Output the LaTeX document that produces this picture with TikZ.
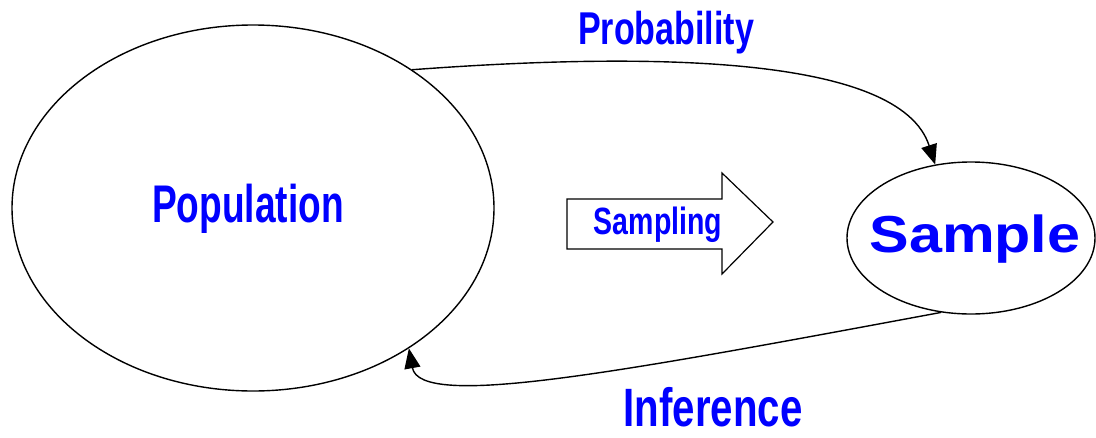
\documentclass[tikz,border=0pt]{standalone}
\usepackage{fontspec}
\setmainfont{Liberation Sans}
\usetikzlibrary{arrows.meta,shapes.geometric}
\definecolor{lblblue}{RGB}{0,0,255}
\newcommand{\narrowtxt}[2]{\scalebox{#1}[1]{#2}}
\tikzset{
  line/.style={line width=1.4pt, black},
  bubble/.style={draw, ellipse, line width=1.4pt, inner sep=0pt},
  lbl/.style={text=lblblue, font=\bfseries, inner sep=0pt, anchor=base},
  conn/.style={line, -{Triangle[length=20pt,width=16pt]}},
}
\begin{document}
\begin{tikzpicture}[x=1pt,y=-1pt]
\useasboundingbox (0,0) rectangle (1096,437);
\node[bubble, minimum width=482pt, minimum height=366pt] (pop) at (253,208) {};
\node[bubble, minimum width=248pt, minimum height=152pt] (samp) at (971,238) {};
\node[lbl, font=\bfseries\fontsize{53}{60}\selectfont] (poplbl) at (248,222) {\narrowtxt{0.70}{Population}};
\node[lbl, font=\bfseries\fontsize{52}{60}\selectfont] (samplbl) at (975,252) {\narrowtxt{1.14}{Sample}};
% block arrow
\draw[line, line width=1.2pt] (567,199) -- (722,199) -- (722,173) -- (773,222) -- (722,274) -- (722,249) -- (567,249) -- cycle;
\node[lbl, font=\bfseries\fontsize{38}{44}\selectfont] (samplinglbl) at (658,234) {\narrowtxt{0.75}{Sampling}};
% connectors
\draw[conn] (pop.41.9) .. controls (650,52) and (900,55) .. (samp.116.3);
\node[lbl, font=\bfseries\fontsize{46}{52}\selectfont] (problbl) at (666,44) {\narrowtxt{0.74}{Probability}};
\draw[conn] (samp.248.9) .. controls (620,372) and (420,410) .. (pop.318.8);
\node[lbl, font=\bfseries\fontsize{54}{60}\selectfont] (inflbl) at (713,426) {\narrowtxt{0.745}{Inference}};
\end{tikzpicture}
\end{document}
